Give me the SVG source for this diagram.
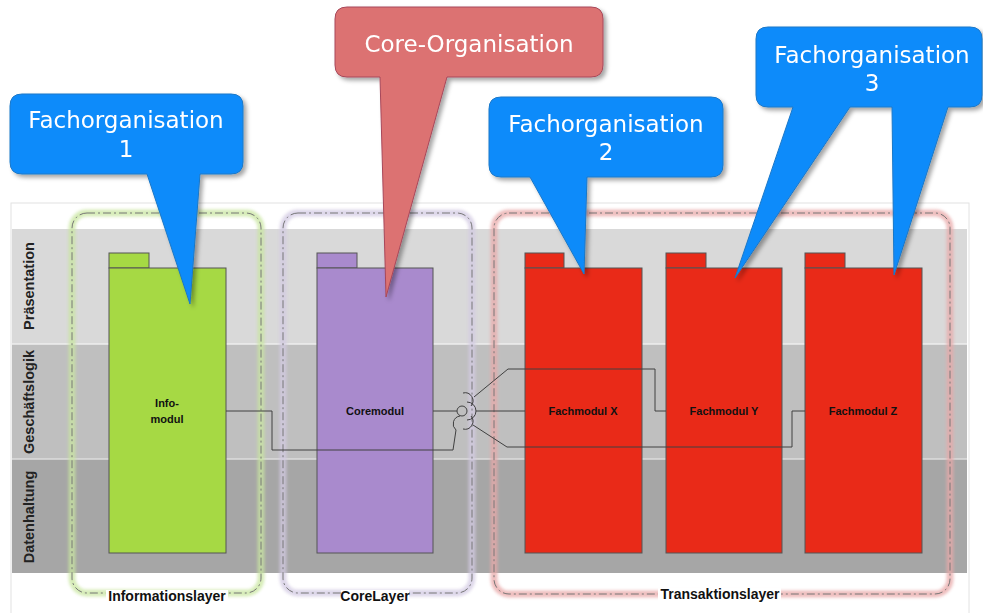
<svg xmlns="http://www.w3.org/2000/svg" width="983" height="613" viewBox="0 0 983 613">
<defs>
<filter id="shadow" x="-10%" y="-10%" width="130%" height="130%">
<feDropShadow dx="3" dy="3" stdDeviation="2" flood-color="#000" flood-opacity="0.35"/>
</filter>
<filter id="glow" x="-10%" y="-10%" width="120%" height="120%">
<feGaussianBlur stdDeviation="1.8"/>
</filter>
<style>
.band-label{font-family:"Liberation Sans",Arial,sans-serif;font-weight:bold;font-size:14.5px;fill:#222;text-anchor:middle}
.mod{stroke:#555;stroke-width:1}
.green{fill:#a6d944}
.purple{fill:#a98acd}
.red{fill:#e92a18}
.mod-label{font-family:"Liberation Sans",Arial,sans-serif;font-weight:bold;font-size:11px;fill:#111;text-anchor:middle}
.layer-label{font-family:"Liberation Sans",Arial,sans-serif;font-weight:bold;font-size:14px;fill:#111;text-anchor:middle}
.cont{fill:none;stroke:#777;stroke-width:1;stroke-dasharray:8 3 2 3}
.glow{fill:none;stroke-width:7;opacity:0.75}
.conn{fill:none;stroke:#404040;stroke-width:1}
.callout-text{font-family:"DejaVu Sans",Verdana,sans-serif;font-size:23px;fill:#fff;text-anchor:middle}
.blue{fill:#118bfa;stroke:#1a78c8;stroke-width:1}
.core{fill:#dc7272;stroke:#a8485a;stroke-width:1}
</style>
</defs>

<!-- frame and bands -->
<g id="frame">
<rect x="11" y="203" width="958" height="420" fill="#fff" stroke="#e2e2e2" stroke-width="1"/>
<rect x="12" y="229" width="955" height="115" fill="#d9d9d9"/>
<rect x="12" y="344" width="955" height="115" fill="#bfbfbf"/>
<rect x="12" y="459" width="955" height="114" fill="#a6a6a6"/>
<line x1="12" y1="344" x2="967" y2="344" stroke="#eeeeee" stroke-width="1.5"/>
<line x1="12" y1="459" x2="967" y2="459" stroke="#dddddd" stroke-width="1.5"/>
<text class="band-label" transform="translate(34,286) rotate(-90)">Präsentation</text>
<text class="band-label" transform="translate(34,402) rotate(-90)">Geschäftslogik</text>
<text class="band-label" transform="translate(34,517) rotate(-90)">Datenhaltung</text>
</g>

<!-- containers -->
<g id="informationslayer">
<rect class="glow" x="72" y="213" width="189" height="380" rx="15" stroke="#c9e6a0" filter="url(#glow)"/>
<rect class="cont" x="72" y="213" width="189" height="380" rx="15"/>
</g>
<g id="corelayer">
<rect class="glow" x="283" y="213" width="189" height="380" rx="15" stroke="#d3cae3" filter="url(#glow)"/>
<rect class="cont" x="283" y="213" width="189" height="380" rx="15"/>
</g>
<g id="transaktionslayer">
<rect class="glow" x="494" y="213" width="456" height="381" rx="15" stroke="#e9a9a9" filter="url(#glow)"/>
<rect class="cont" x="494" y="213" width="456" height="381" rx="15"/>
</g>

<!-- modules -->
<g id="infomodul">
<rect class="mod green" x="109" y="253" width="40" height="15"/>
<rect class="mod green" x="109" y="268" width="117" height="285"/>
<text class="mod-label" x="167" y="407">Info-</text>
<text class="mod-label" x="167" y="423">modul</text>
</g>
<g id="coremodul">
<rect class="mod purple" x="317" y="253" width="40" height="15"/>
<rect class="mod purple" x="317" y="268" width="116" height="285"/>
<text class="mod-label" x="375" y="415">Coremodul</text>
</g>
<g id="fachmodul-x">
<rect class="mod red" x="525" y="253" width="39" height="15"/>
<rect class="mod red" x="525" y="268" width="117" height="285"/>
<text class="mod-label" x="583" y="415">Fachmodul X</text>
</g>
<g id="fachmodul-y">
<rect class="mod red" x="666" y="253" width="40" height="15"/>
<rect class="mod red" x="666" y="268" width="116" height="285"/>
<text class="mod-label" x="724" y="415">Fachmodul Y</text>
</g>
<g id="fachmodul-z">
<rect class="mod red" x="805" y="253" width="40" height="15"/>
<rect class="mod red" x="805" y="268" width="117" height="285"/>
<text class="mod-label" x="863" y="415">Fachmodul Z</text>
</g>

<!-- connectors -->
<g id="connectors">
<polyline class="conn" points="226,411 272,411 272,450 453,450 456,430"/>
<path class="conn" d="M 460 416 A 8 8 0 0 0 456 430"/>
<line class="conn" x1="433" y1="411" x2="457" y2="411"/>
<circle class="conn" cx="462" cy="411" r="5"/>
<path class="conn" d="M 463 393 A 8 8 0 0 1 471 406"/>
<path class="conn" d="M 467 402 A 9 9 0 0 1 467 420"/>
<path class="conn" d="M 471 416 A 8 8 0 0 1 463 429"/>
<polyline class="conn" points="474,397 508,369 655,369 655,411 666,411"/>
<line class="conn" x1="476" y1="411" x2="525" y2="411"/>
<polyline class="conn" points="473,425 507,447 792,447 792,411 805,411"/>
</g>

<!-- layer labels -->
<g id="layer-labels">
<rect x="106" y="590" width="122" height="14" fill="#fff"/>
<text class="layer-label" x="167" y="601">Informationslayer</text>
<rect x="341" y="590" width="68" height="14" fill="#fff"/>
<text class="layer-label" x="375" y="601">CoreLayer</text>
<rect x="658" y="588" width="123" height="14" fill="#fff"/>
<text class="layer-label" x="720" y="599">Transaktionslayer</text>
</g>

<!-- callouts -->
<g id="callout-fachorg1" filter="url(#shadow)">
<path class="blue" d="M 22 94 H 231 Q 243 94 243 106 V 162 Q 243 174 231 174 H 200 L 190 304 L 147 174 H 22 Q 10 174 10 162 V 106 Q 10 94 22 94 Z"/>
<text class="callout-text" x="126" y="128">Fachorganisation</text>
<text class="callout-text" x="126" y="157">1</text>
</g>
<g id="callout-core" filter="url(#shadow)">
<path class="core" d="M 347 7 H 591 Q 603 7 603 19 V 65 Q 603 77 591 77 H 447 L 386 297 L 380 77 H 347 Q 335 77 335 65 V 19 Q 335 7 347 7 Z"/>
<text class="callout-text" x="469" y="52">Core-Organisation</text>
</g>
<g id="callout-fachorg2" filter="url(#shadow)">
<path class="blue" d="M 501 97 H 711 Q 723 97 723 109 V 165 Q 723 177 711 177 H 587 L 584 274 L 530 177 H 501 Q 489 177 489 165 V 109 Q 489 97 501 97 Z"/>
<text class="callout-text" x="606" y="132">Fachorganisation</text>
<text class="callout-text" x="606" y="160">2</text>
</g>
<g id="callout-fachorg3" filter="url(#shadow)">
<path class="blue" d="M 768 27 H 970 Q 982 27 982 39 V 95 Q 982 107 970 107 H 948 L 894 275 L 892 107 H 850 L 735 278 L 793 107 H 768 Q 756 107 756 95 V 39 Q 756 27 768 27 Z"/>
<text class="callout-text" x="872" y="63">Fachorganisation</text>
<text class="callout-text" x="872" y="91">3</text>
</g>
</svg>
